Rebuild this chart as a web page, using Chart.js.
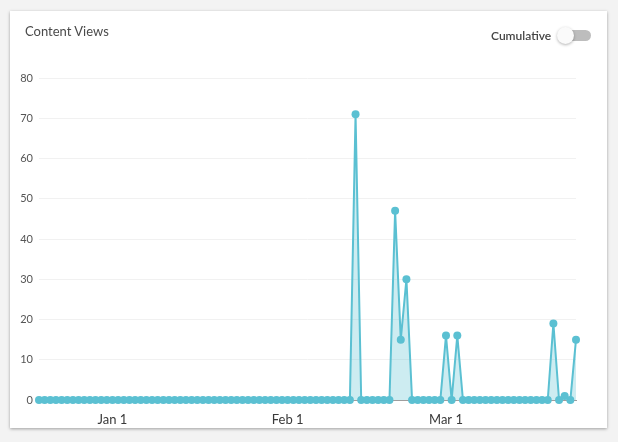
<!DOCTYPE html>
<html>
<head>
<meta charset="utf-8">
<script src="https://cdn.jsdelivr.net/npm/chart.js@4.4.1/dist/chart.umd.min.js"></script>
<style>
    html, body {
        margin: 0;
        padding: 0;
        width: 618px;
        height: 442px;
        overflow: hidden;
        background: #f3f3f3;
        font-family: Lato, "Open Sans", sans-serif;
    }
    .card {
        position: absolute;
        left: 10px;
        top: 11px;
        width: 597px;
        height: 417px;
        background: #fff;
        box-shadow: 0 1px 3px rgba(0, 0, 0, 0.35);
    }
    .title {
        position: absolute;
        left: 25px;
        top: 23px;
        font-size: 13px;
        color: #4a4a4a;
        z-index: 2;
    }
    .cumulative {
        position: absolute;
        left: 491px;
        top: 28px;
        font-size: 12px;
        font-weight: 600;
        color: #444;
        z-index: 2;
    }
    .track {
        position: absolute;
        left: 562px;
        top: 30px;
        width: 29px;
        height: 11px;
        border-radius: 6px;
        background: #bdbdbd;
        z-index: 2;
    }
    .knob {
        position: absolute;
        left: 557px;
        top: 27px;
        width: 17px;
        height: 17px;
        border-radius: 50%;
        background: #fafafa;
        box-shadow: 0 1px 3px rgba(0, 0, 0, 0.3);
        z-index: 3;
    }
    #chart-wrap {
        position: absolute;
        left: 0;
        top: 0;
        width: 618px;
        height: 442px;
        z-index: 1;
    }
</style>
</head>
<body>
<div class="card"></div>
<div class="title">Content Views</div>
<div class="cumulative">Cumulative</div>
<div class="track"></div>
<div class="knob"></div>
<div id="chart-wrap"><canvas id="views-chart"></canvas></div>

<script>
// --- 데이터: 일별 조회수 (Dec 19 ~ Mar 24) ---
const decViews = [0, 0, 0, 0, 0, 0, 0, 0, 0, 0, 0, 0, 0];               // Dec 19-31
const janViews = [0, 0, 0, 0, 0, 0, 0, 0, 0, 0, 0, 0, 0, 0, 0, 0,
                  0, 0, 0, 0, 0, 0, 0, 0, 0, 0, 0, 0, 0, 0, 0];         // Jan 1-31
const febViews = [0, 0, 0, 0, 0, 0, 0, 0, 0, 0, 0, 0, 71, 0,
                  0, 0, 0, 0, 0, 47, 15, 30, 0, 0, 0, 0, 0, 0];         // Feb 1-28
const marViews = [16, 0, 16, 0, 0, 0, 0, 0, 0, 0, 0, 0, 0, 0, 0, 0,
                  0, 0, 0, 19, 0, 1, 0, 15];                            // Mar 1-24

const months = [
    { name: "Dec", firstDay: 19, values: decViews },
    { name: "Jan", firstDay: 1, values: janViews },
    { name: "Feb", firstDay: 1, values: febViews },
    { name: "Mar", firstDay: 1, values: marViews },
];
const yTicks = [0, 10, 20, 30, 40, 50, 60, 70, 80];

// 라벨과 값 배열 만들기
const labels = [];
const views = [];
months.forEach(m => {
    m.values.forEach((v, i) => {
        labels.push(`${m.name} ${m.firstDay + i}`);
        views.push(v);
    });
});

const lineColor = "rgb(91, 192, 210)";

new Chart(document.getElementById("views-chart"), {
    type: "line",
    data: {
        labels: labels,
        datasets: [{
            label: "Content Views",
            data: views,
            borderColor: lineColor,
            backgroundColor: "rgba(91, 192, 210, 0.3)",
            borderWidth: 2,
            tension: 0,
            fill: "origin",
            clip: false, // 0 위치의 점이 잘리지 않도록
            pointRadius: 4,
            pointBorderWidth: 0,
            pointBackgroundColor: lineColor,
        }]
    },
    options: {
        responsive: true,
        maintainAspectRatio: false,
        animation: false,
        layout: {
            padding: { left: 0, right: 42, top: 78, bottom: 0 }
        },
        plugins: {
            legend: { display: false },
            tooltip: { enabled: false }
        },
        scales: {
            x: {
                offset: false,
                grid: { display: false },
                border: { display: true, color: "#9e9e9e", width: 1 },
                ticks: {
                    autoSkip: false,
                    maxRotation: 0,
                    padding: 4,
                    color: "#3a3a3a",
                    font: { family: "Lato", size: 13 },
                    // 매월 1일만 표시
                    callback: (val, i) => labels[i].endsWith(" 1") ? labels[i] : null
                },
                afterFit: (scale) => { scale.height = 42; }
            },
            y: {
                min: 0,
                max: 80,
                afterBuildTicks: (scale) => {
                    scale.ticks = yTicks.map(v => ({ value: v }));
                },
                grid: { color: "#f1f1f1", drawTicks: false },
                border: { display: false },
                ticks: {
                    padding: 6,
                    color: "#555",
                    font: { family: "Lato", size: 11 }
                },
                afterFit: (scale) => { scale.width = 39; }
            }
        }
    }
});
</script>
</body>
</html>
